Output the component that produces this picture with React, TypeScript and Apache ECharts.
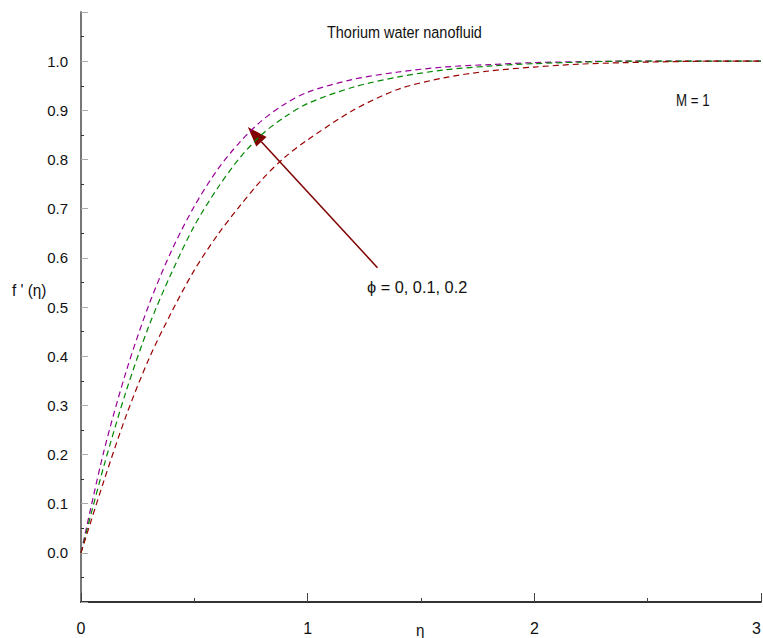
import React, { useEffect, useRef } from "react";
import * as echarts from "echarts";

const eta = [0, 0.1, 0.2, 0.3, 0.4, 0.5, 0.6, 0.7, 0.8, 0.9, 1.0, 1.2, 1.4, 1.6, 1.8, 2.0, 2.2, 2.4, 2.6, 2.8, 3.0];
const phi0 = [0, 0.205, 0.37, 0.505, 0.615, 0.705, 0.778, 0.835, 0.88, 0.913, 0.937, 0.963, 0.978, 0.988, 0.993, 0.997, 0.999, 1.0, 1.0, 1.0, 1.0];
const phi1 = [0, 0.175, 0.33, 0.462, 0.57, 0.665, 0.74, 0.803, 0.852, 0.887, 0.914, 0.947, 0.968, 0.982, 0.99, 0.995, 0.998, 1.0, 1.0, 1.0, 1.0];
const phi2 = [0, 0.145, 0.28, 0.395, 0.49, 0.575, 0.645, 0.705, 0.76, 0.805, 0.84, 0.9, 0.943, 0.966, 0.98, 0.988, 0.994, 0.997, 0.999, 1.0, 1.0];
const xTicks = [0, 1, 2, 3];
const arrowTail = [1.308, 0.58];
const arrowTip = [0.736, 0.866];

const FONT = "'Liberation Sans', Arial, sans-serif";

export default function App() {
  const ref = useRef<HTMLDivElement>(null);
  useEffect(() => {
    if (!ref.current) return;
    const chart = echarts.init(ref.current, null, { renderer: "svg" });
    const mk = (vals: number[], color: string) => ({
      type: "line",
      data: eta.map((x, i) => [x, vals[i]]),
      showSymbol: false,
      smooth: 0.3,
      lineStyle: { color, width: 1.2, type: [6, 4] },
      silent: true,
    });
    chart.setOption({
      animation: false,
      grid: { left: 81, right: 2, top: 12, bottom: 36, outerBoundsMode: "none", containLabel: false },
      xAxis: {
        type: "value",
        min: 0,
        max: 3,
        interval: 1,
        axisLine: { onZero: false, lineStyle: { color: "#333", width: 2 } },
        axisTick: { inside: true, length: 9, lineStyle: { color: "#444" } },
        minorTick: { show: true, splitNumber: 2, length: 4, lineStyle: { color: "#444" } },
        splitLine: { show: false },
        axisLabel: {
          margin: 18,
          color: "#111",
          fontSize: 16,
          fontFamily: FONT,
          hideOverlap: false,
          alignMaxLabel: "right",
          formatter: (v: number) => (xTicks.includes(Math.round(v)) ? String(Math.round(v)) : ""),
        },
      },
      yAxis: {
        type: "value",
        min: -0.1,
        max: 1.1,
        interval: 0.1,
        axisLine: { show: true, onZero: false, lineStyle: { color: "#777", width: 2 } },
        axisTick: { show: true, inside: true, length: 7, lineStyle: { color: "#aaa" } },
        minorTick: { show: true, splitNumber: 2, length: 3, lineStyle: { color: "#333" } },
        splitLine: { show: false },
        axisLabel: {
          margin: 13,
          color: "#111",
          fontSize: 15,
          fontFamily: FONT,
          formatter: (v: number) => (v < -0.05 || v > 1.05 ? "" : v.toFixed(1)),
        },
      },
      series: [mk(phi0, "#990099"), mk(phi1, "#008800"), mk(phi2, "#990000")],
    });

    const tip = chart.convertToPixel({ gridIndex: 0 }, arrowTip) as number[];
    const tail = chart.convertToPixel({ gridIndex: 0 }, arrowTail) as number[];
    const dx = tip[0] - tail[0];
    const dy = tip[1] - tail[1];
    const len = Math.sqrt(dx * dx + dy * dy);
    const ux = dx / len;
    const uy = dy / len;
    const hl = 20;
    const hw = 7;
    const bx = tip[0] - hl * ux;
    const by = tip[1] - hl * uy;
    const px = -uy;
    const py = ux;

    const txt = (text: string, x: number, y: number, sx: number, size = 17) => ({
      type: "text",
      x,
      y,
      scaleX: sx,
      style: { text, fontSize: size, fontFamily: FONT, fill: "#111", textVerticalAlign: "middle", textAlign: "left" },
    });

    chart.setOption({
      graphic: [
        txt("Thorium water nanofluid", 327, 32, 0.85),
        txt("M = 1", 676, 100, 0.78),
        txt("ϕ = 0, 0.1, 0.2", 367, 287, 0.96),
        txt("f ' (η)", 12, 290, 0.9),
        txt("η", 416, 630, 0.95, 16),
        {
          type: "line",
          shape: { x1: tail[0], y1: tail[1], x2: bx, y2: by },
          style: { stroke: "#800000", lineWidth: 1.5 },
        },
        {
          type: "polygon",
          shape: { points: [[tip[0], tip[1]], [bx + hw * px, by + hw * py], [bx - hw * px, by - hw * py]] },
          style: { fill: "#800000" },
        },
      ],
    });
    return () => chart.dispose();
  }, []);
  return <div ref={ref} style={{ position: "absolute", left: 0, top: 0, width: 763, height: 638 }} />;
}
